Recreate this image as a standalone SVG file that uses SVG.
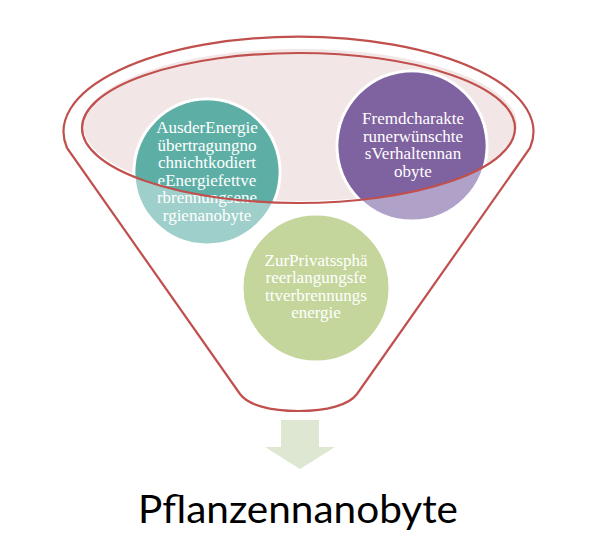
<svg xmlns="http://www.w3.org/2000/svg" width="596" height="558" viewBox="0 0 596 558">
<style>
.lbl{font-family:"Liberation Serif","Times New Roman",serif;font-size:17px;fill:#ffffff;text-anchor:middle}
.line{fill:none;stroke:#C0504D;stroke-width:2.2}
.circ{stroke:#ffffff;stroke-width:3}
.title{font-family:Lato,"Liberation Sans",sans-serif;font-size:39px;fill:#000000;text-anchor:middle}
</style>
<defs>
<clipPath id="inner"><ellipse cx="298.5" cy="128" rx="216.5" ry="75"/></clipPath>
</defs>
<rect width="596" height="558" fill="#ffffff"/>
<g id="funnel-fill">
<ellipse cx="300" cy="125" rx="217" ry="76" fill="#F2E6E6"/>
</g>
<g id="node-teal">
<circle class="circ" cx="207" cy="172" r="73" fill="#9ECFCA"/>
<circle cx="207" cy="172" r="71.5" fill="#5DAFA6" clip-path="url(#inner)"/>
<text class="lbl"><tspan x="207" y="133">AusderEnergie</tspan><tspan x="207" y="150.6">übertragungno</tspan><tspan x="207" y="168.2">chnichtkodiert</tspan><tspan x="207" y="185.8">eEnergiefettve</tspan><tspan x="207" y="203.4">rbrennungsene</tspan><tspan x="207" y="221">rgienanobyte</tspan></text>
</g>
<g id="node-purple">
<circle class="circ" cx="412" cy="146" r="75" fill="#B0A1C8"/>
<circle cx="412" cy="146" r="73.5" fill="#7F62A0" clip-path="url(#inner)"/>
<text class="lbl"><tspan x="413" y="124">Fremdcharakte</tspan><tspan x="413" y="141.7">runerwünschte</tspan><tspan x="413" y="159.4">sVerhaltennan</tspan><tspan x="413" y="177">obyte</tspan></text>
</g>
<g id="node-green">
<circle class="circ" cx="316" cy="288" r="74" fill="#C4D69B"/>
<text class="lbl"><tspan x="316" y="266">ZurPrivatssphä</tspan><tspan x="316" y="283.3">reerlangungsfe</tspan><tspan x="316" y="300.6">ttverbrennungs</tspan><tspan x="316" y="318">energie</tspan></text>
</g>
<g id="funnel-lines">
<ellipse class="line" cx="298.5" cy="128" rx="216.5" ry="75"/>
<path class="line" d="M67 148 A235 95 0 1 1 530 148 L357 394 C349 405 327 411 298.5 411 C270 411 248 405 240 394 Z"/>
</g>
<g id="arrow">
<path d="M281 420 H319 V447 H335 L300 469 L265 447 H281 Z" fill="#DDE7D1"/>
</g>
<g id="title">
<text class="title" x="298" y="523" textLength="320" lengthAdjust="spacingAndGlyphs">Pflanzennanobyte</text>
</g>
</svg>
